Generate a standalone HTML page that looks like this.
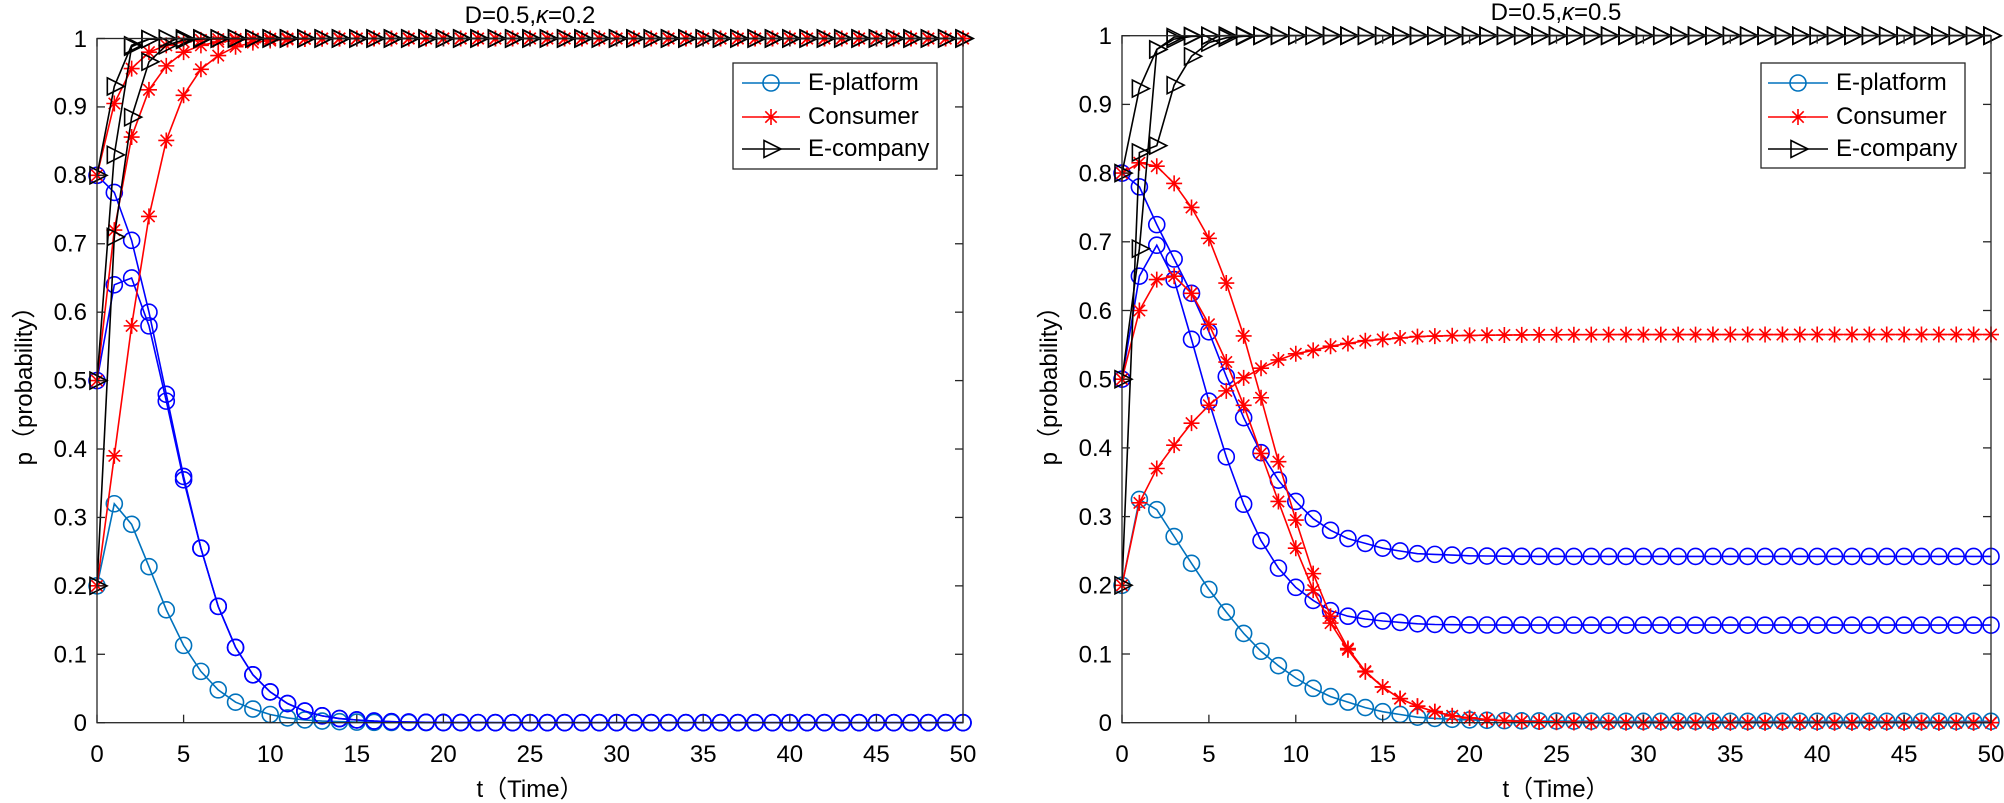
<!DOCTYPE html>
<html><head><meta charset="utf-8"><style>
html,body{margin:0;padding:0;background:#fff;}
svg{display:block;font-family:"Liberation Sans","Noto Sans CJK SC",sans-serif;}
</style></head><body>
<svg id="s" width="2004" height="803" viewBox="0 0 2004 803" xmlns="http://www.w3.org/2000/svg">
<rect width="2004" height="803" fill="#fff"/>
<g id="plots"></g>
<!-- Left axes -->
<g stroke="#262626" stroke-width="1.3" fill="none">
<rect x="97" y="38.5" width="866" height="684.2"/>
<rect x="1122" y="35.7" width="869" height="687"/>
</g>
<g id="ticks" stroke="#262626" stroke-width="1.3"></g>
<g font-size="24" fill="#000" text-anchor="end">
<text x="87" y="731">0</text><text x="87" y="662.5">0.1</text><text x="87" y="594">0.2</text><text x="87" y="525.5">0.3</text><text x="87" y="457">0.4</text><text x="87" y="388.5">0.5</text><text x="87" y="320">0.6</text><text x="87" y="251.5">0.7</text><text x="87" y="183">0.8</text><text x="87" y="114.5">0.9</text><text x="87" y="47">1</text>
<text x="1112" y="731">0</text><text x="1112" y="662.3">0.1</text><text x="1112" y="593.6">0.2</text><text x="1112" y="524.9">0.3</text><text x="1112" y="456.2">0.4</text><text x="1112" y="387.5">0.5</text><text x="1112" y="318.8">0.6</text><text x="1112" y="250.1">0.7</text><text x="1112" y="181.4">0.8</text><text x="1112" y="112.7">0.9</text><text x="1112" y="44">1</text>
</g>
<g font-size="24" fill="#000" text-anchor="middle">
<text x="97" y="762">0</text><text x="183.6" y="762">5</text><text x="270.2" y="762">10</text><text x="356.8" y="762">15</text><text x="443.4" y="762">20</text><text x="530" y="762">25</text><text x="616.6" y="762">30</text><text x="703.2" y="762">35</text><text x="789.8" y="762">40</text><text x="876.4" y="762">45</text><text x="963" y="762">50</text>
<text x="1122" y="762">0</text><text x="1208.9" y="762">5</text><text x="1295.8" y="762">10</text><text x="1382.7" y="762">15</text><text x="1469.6" y="762">20</text><text x="1556.5" y="762">25</text><text x="1643.4" y="762">30</text><text x="1730.3" y="762">35</text><text x="1817.2" y="762">40</text><text x="1904.1" y="762">45</text><text x="1991" y="762">50</text>
<text x="530" y="797">t（Time）</text>
<text x="1556" y="797">t（Time）</text>
<text x="530" y="23">D=0.5,<tspan font-style="italic">κ</tspan>=0.2</text>
<text x="1556" y="20">D=0.5,<tspan font-style="italic">κ</tspan>=0.5</text>
<text transform="translate(32,380) rotate(-90)">p（probability）</text>
<text transform="translate(1057,380) rotate(-90)">p（probability）</text>
</g>
<!-- legends -->
<g id="leg"></g>
</svg>
<script>
var NS="http://www.w3.org/2000/svg";
function el(p,tag,a){var e=document.createElementNS(NS,tag);for(var k in a)e.setAttribute(k,a[k]);p.appendChild(e);return e;}
function ser(arr,lim,r){var o=arr.slice();var last=arr[arr.length-1];var k=1;while(o.length<51){o.push(lim+(last-lim)*Math.pow(r,k));k++;}return o;}
var plots=document.getElementById('plots'),ticks=document.getElementById('ticks'),leg=document.getElementById('leg');
function marker(g,type,x,y,c){
 if(type=='o')el(g,'circle',{cx:x,cy:y,r:8,fill:'none',stroke:c,'stroke-width':1.6});
 else if(type=='*'){var d=8,e=5.7;el(g,'path',{d:'M'+(x-d)+' '+y+'H'+(x+d)+'M'+x+' '+(y-d)+'V'+(y+d)+'M'+(x-e)+' '+(y-e)+'L'+(x+e)+' '+(y+e)+'M'+(x-e)+' '+(y+e)+'L'+(x+e)+' '+(y-e),stroke:c,'stroke-width':1.6,fill:'none'});}
 else el(g,'path',{d:'M'+(x-7)+' '+(y-8.5)+'L'+(x+10)+' '+y+'L'+(x-7)+' '+(y+8.5)+'Z',fill:'none',stroke:c,'stroke-width':1.6});
}
function panel(x0,w,yt,yb,S){
 for(var i=0;i<=10;i++){var x=x0+w*i/10,y=yb-(yb-yt)*i/10;
  el(ticks,'line',{x1:x,y1:yb,x2:x,y2:yb-8});el(ticks,'line',{x1:x,y1:yt,x2:x,y2:yt+8});
  el(ticks,'line',{x1:x0,y1:y,x2:x0+8,y2:y});el(ticks,'line',{x1:x0+w,y1:y,x2:x0+w-8,y2:y});}
 S.forEach(function(s){var g=el(plots,'g',{});var pts=s.d.map(function(v,t){return [x0+w*t/50,yb-(yb-yt)*v];});
  el(g,'polyline',{points:pts.map(function(p){return p[0].toFixed(1)+','+p[1].toFixed(1)}).join(' '),fill:'none',stroke:s.c,'stroke-width':1.6});
  pts.forEach(function(p){marker(g,s.m,p[0],p[1],s.c);});});
}
var B1='#0072BD',B='#0000FF',R='#FF0000',K='#000000';
panel(97,866,38.5,722.7,[
 {d:ser([0.2,0.32,0.29,0.228,0.165,0.113,0.075,0.048,0.03,0.02,0.012,0.007,0.004],0,0.6),c:B1,m:'o'},
 {d:ser([0.5,0.64,0.65,0.58,0.47,0.355,0.255,0.17,0.11,0.07,0.045,0.028,0.017,0.01,0.006,0.004],0,0.6),c:B,m:'o'},
 {d:ser([0.8,0.775,0.705,0.6,0.48,0.36,0.255,0.17,0.11,0.07,0.045,0.028,0.017,0.01,0.006,0.004],0,0.6),c:B,m:'o'},
 {d:ser([0.2,0.39,0.58,0.74,0.851,0.917,0.955,0.975,0.988,0.994],1,0.5),c:R,m:'*'},
 {d:ser([0.5,0.72,0.856,0.925,0.96,0.98,0.99,0.995],1,0.5),c:R,m:'*'},
 {d:ser([0.8,0.905,0.956,0.98,0.99,0.995,0.998],1,0.5),c:R,m:'*'},
 {d:ser([0.2,0.71,0.885,0.966,0.99,0.998],1,0.3),c:K,m:'>'},
 {d:ser([0.5,0.83,0.988,0.999],1,0.3),c:K,m:'>'},
 {d:ser([0.8,0.93,0.99,0.999],1,0.3),c:K,m:'>'}
]);
panel(1122,869,35.7,722.7,[
 {d:ser([0.2,0.325,0.31,0.271,0.232,0.194,0.161,0.13,0.104,0.083,0.065,0.05,0.038,0.03,0.022,0.016,0.012,0.008],0.002,0.7),c:B1,m:'o'},
 {d:ser([0.5,0.65,0.695,0.645,0.558,0.468,0.387,0.318,0.265,0.225,0.197,0.178,0.163,0.155,0.151,0.148,0.146,0.144,0.143],0.142,0.6),c:B,m:'o'},
 {d:ser([0.8,0.78,0.725,0.675,0.625,0.569,0.504,0.444,0.393,0.353,0.322,0.297,0.28,0.268,0.261,0.254,0.25,0.246,0.245,0.244,0.243],0.242,0.6),c:B,m:'o'},
 {d:ser([0.2,0.32,0.37,0.404,0.436,0.462,0.483,0.502,0.516,0.528,0.537,0.542,0.548,0.552,0.556,0.558,0.56,0.562],0.565,0.75),c:R,m:'*'},
 {d:ser([0.5,0.6,0.645,0.65,0.625,0.58,0.525,0.462,0.392,0.322,0.254,0.193,0.145,0.106,0.074,0.052,0.035,0.024,0.016,0.01,0.007],0,0.65),c:R,m:'*'},
 {d:ser([0.8,0.815,0.81,0.785,0.75,0.705,0.64,0.563,0.473,0.38,0.295,0.217,0.155,0.108,0.075,0.052,0.035,0.024,0.016,0.01,0.007],0,0.65),c:R,m:'*'},
 {d:ser([0.2,0.83,0.84,0.928,0.97,0.99,0.997],1,0.3),c:K,m:'>'},
 {d:ser([0.5,0.69,0.98,0.998],1,0.3),c:K,m:'>'},
 {d:ser([0.8,0.923,0.98,0.995,0.999],1,0.3),c:K,m:'>'}
]);
function legend(x,y,w,h,lx1,lx2){
 el(leg,'rect',{x:x,y:y,width:w,height:h,fill:'#fff',stroke:'#262626','stroke-width':1.3});
 var rows=[[B1,'o'],[R,'*'],[K,'>']];var ys=[y+20,y+54,y+86];
 rows.forEach(function(r,i){el(leg,'line',{x1:lx1,y1:ys[i],x2:lx2,y2:ys[i],stroke:r[0],'stroke-width':1.6});marker(leg,r[1],(lx1+lx2)/2,ys[i],r[0]);});
}
legend(733,63,204,106,742,800);
legend(1761,63,204,105,1768,1828);
</script>
<svg width="0" height="0" style="position:absolute;left:0;top:0"></svg>
<div style="position:absolute;left:0;top:0;width:2004px;height:803px;pointer-events:none;font-family:'Liberation Sans',sans-serif;font-size:24px;">
<span style="position:absolute;left:808px;top:71px;line-height:24px;">E-platform</span>
<span style="position:absolute;left:808px;top:105px;line-height:24px;">Consumer</span>
<span style="position:absolute;left:808px;top:137px;line-height:24px;">E-company</span>
<span style="position:absolute;left:1836px;top:71px;line-height:24px;">E-platform</span>
<span style="position:absolute;left:1836px;top:105px;line-height:24px;">Consumer</span>
<span style="position:absolute;left:1836px;top:137px;line-height:24px;">E-company</span>
</div>
</body></html>
